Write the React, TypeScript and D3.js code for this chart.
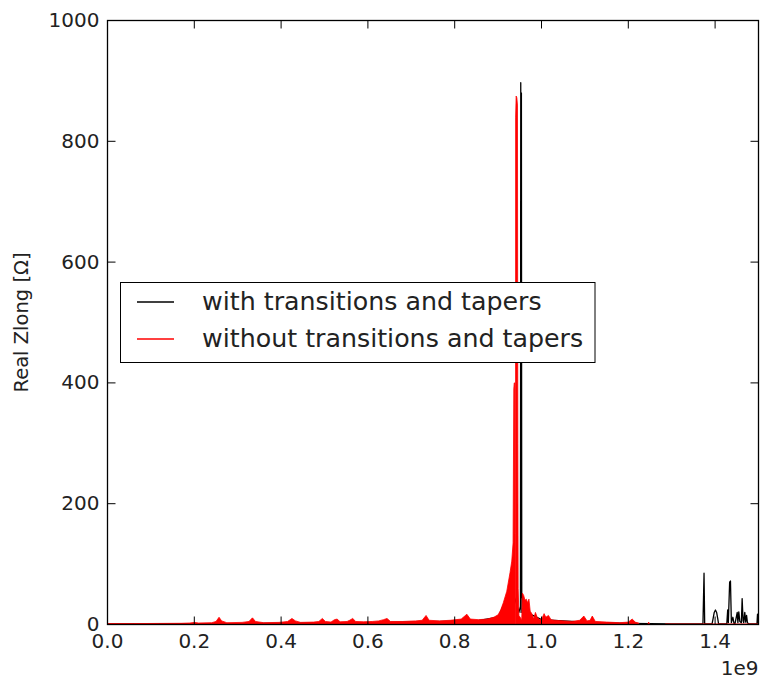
import React from 'react';
import * as d3 from 'd3';

const WIDTH = 760;
const HEIGHT = 681;

// Frequency axis values are in units of 1e9 Hz (offset label drawn at the axis end).
const X_OFFSET_LABEL = '1e9';
const Y_AXIS_LABEL = 'Real Zlong [Ω]';

const xTickValues = [0, 0.2, 0.4, 0.6, 0.8, 1.0, 1.2, 1.4];
const xTickLabels = ['0.0', '0.2', '0.4', '0.6', '0.8', '1.0', '1.2', '1.4'];
const yTickValues = [0, 200, 400, 600, 800, 1000];
const yTickLabels = ['0', '200', '400', '600', '800', '1000'];

const seriesNames = ['with transitions and tapers', 'without transitions and tapers'];
const seriesColors = ['#000000', '#ff0000'];

// Impedance with transitions and tapers
const withTapersFreq = [
  0.0, 0.3, 0.6, 0.85, 0.9, 0.93, 0.94, 0.948, 0.9515, 0.9522, 0.953, 0.9537, 0.9545,
  0.9555, 0.958, 0.965, 0.98, 1.0, 1.1, 1.2, 1.3, 1.372, 1.3745, 1.376, 1.385, 1.393,
  1.3955, 1.398, 1.4008, 1.4035, 1.406, 1.408, 1.42, 1.427, 1.429, 1.4305, 1.4335, 1.4354,
  1.4375, 1.441, 1.4435, 1.446, 1.451, 1.4525, 1.4546, 1.457, 1.4605, 1.4623, 1.4645, 1.466,
  1.4684, 1.4705, 1.4725, 1.4745, 1.478, 1.49, 1.4965, 1.4977, 1.4995, 1.5,
];
const withTapersZ = [
  1, 1.5, 3, 6, 12, 60, 40, 20, 30, 897, 20, 880, 45,
  50, 30, 22, 15, 8, 4, 2, 1, 1, 85, 1.5, 1, 1,
  10, 20, 24, 20, 10, 1, 1, 1.5, 24, 3, 70, 72,
  3, 12, 2, 2, 20, 3, 21, 5, 3, 43, 6, 3,
  20, 4, 15, 3, 1, 1, 1, 17, 2, 15,
];

// Impedance without transitions and tapers (null = no data)
const withoutTapersFreq = [
  0.0, 0.06, 0.12, 0.17, 0.19, 0.2, 0.21, 0.24, 0.25, 0.257, 0.263, 0.275,
  0.31, 0.326, 0.334, 0.341, 0.36, 0.395, 0.415, 0.425, 0.433, 0.445, 0.475, 0.487,
  0.495, 0.502, 0.515, 0.523, 0.529, 0.536, 0.552, 0.558, 0.565, 0.572, 0.59, 0.61,
  0.625, 0.636, 0.644, 0.652, 0.68, 0.71, 0.725, 0.734, 0.741, 0.765, 0.79, 0.815,
  0.828, 0.836, 0.855, 0.875, 0.89, 0.9, 0.906, 0.912, 0.92, 0.9275, 0.9315, 0.9345,
  0.9362, 0.9372, 0.9386, 0.9389, 0.939, 0.9401, 0.9402, 0.9404, 0.9416, 0.9432, 0.9446,
  0.9455, 0.9462, 0.948, 0.9545, 0.956,
  0.959, 0.962, 0.965, 0.968, 0.971, 0.974, 0.976, 0.979, 0.982, 0.986, 0.99, 0.996,
  1.001, 1.006, 1.01, 1.016, 1.022, 1.03, 1.05, 1.07, 1.088, 1.0975, 1.105, 1.112,
  1.117, 1.124, 1.15, 1.18, 1.2, 1.209, 1.216, 1.225, 1.227, 1.245, 1.247, 1.249,
  1.25, 1.285, 1.35, 1.4, 1.45, 1.5,
];
const withoutTapersZ: (number | null)[] = [
  1.5, 1.5, 1.8, 2, 2.5, 3.5, 2.5, 3, 5, 12, 6, 3,
  3.5, 5, 11, 5, 3, 3.5, 5, 10, 6, 3.5, 4, 5,
  10, 5, 4, 8, 9, 4.5, 5, 7, 10, 5, 4.5, 5,
  6, 8, 10, 5, 5, 6, 7, 15, 7, 6, 7, 9,
  17, 9, 8, 9, 12, 16, 24, 36, 55, 86, 105, 135,
  390, 400, 400, 150, 0, 0, 150, 840, 875, 872, 860,
  300, 60, 15, 8, 52,
  48, 40, 42, 36, 42, 22, 20, 16, 9, 20, 12, 8,
  10, 18, 12, 15, 8, 7, 6, 5, 7, 14, 6, 7,
  14, 5, 4, 3, 4, 9, 4, 2, null, 0.5, 4, 0.5,
  null, 1, 1, 1, 1, 1,
];

const MARGIN = { left: 107.5, right: 1.5, top: 20.5, bottom: 56.5 };
const FONT = 'DejaVu Sans, sans-serif';

export default function App() {
  const x0 = MARGIN.left;
  const x1 = WIDTH - MARGIN.right;
  const y0 = HEIGHT - MARGIN.bottom;
  const y1 = MARGIN.top;

  const x = d3.scaleLinear().domain([0, 1.5]).range([x0, x1]);
  const y = d3.scaleLinear().domain([0, 1000]).range([y0, y1]);

  const blackData = withTapersFreq.map((f, i) => ({ f, z: withTapersZ[i] }));
  const redData = withoutTapersFreq.map((f, i) => ({ f, z: withoutTapersZ[i] }));

  const blackLine = d3
    .line<{ f: number; z: number }>()
    .x((d) => x(d.f))
    .y((d) => y(d.z))(blackData) as string;

  const redArea = d3
    .area<{ f: number; z: number | null }>()
    .defined((d) => d.z !== null)
    .x((d) => x(d.f))
    .y0(y(0))
    .y1((d) => y(d.z as number))(redData) as string;

  const redLine = d3
    .line<{ f: number; z: number | null }>()
    .defined((d) => d.z !== null)
    .x((d) => x(d.f))
    .y((d) => y(d.z as number))(redData) as string;

  const tickLen = 8;
  const legend = { x: 120.5, y: 282.5, w: 474.5, h: 80 };

  return (
    <svg
      width={WIDTH}
      height={HEIGHT}
      style={{ position: 'absolute', left: 0, top: 0, background: '#fff' }}
      fontFamily={FONT}
    >
      <rect x={0} y={0} width={WIDTH} height={HEIGHT} fill="#fff" />
      <defs>
        <clipPath id="plot-clip">
          <rect x={x0} y={y1} width={x1 - x0} height={y0 - y1} />
        </clipPath>
      </defs>

      <g clipPath="url(#plot-clip)">
        <path d={blackLine} fill="none" stroke={seriesColors[0]} strokeWidth={1.3} strokeLinejoin="round" />
        <path d={redArea} fill={seriesColors[1]} stroke="none" />
        <path d={redLine} fill="none" stroke={seriesColors[1]} strokeWidth={0.8} strokeLinejoin="round" />
      </g>

      {/* ticks, pointing inward on all four sides */}
      <g stroke="#000" strokeWidth={1}>
        {xTickValues.map((v) => (
          <g key={'xt' + v}>
            <line x1={x(v)} x2={x(v)} y1={y0} y2={y0 - tickLen} />
            <line x1={x(v)} x2={x(v)} y1={y1} y2={y1 + tickLen} />
          </g>
        ))}
        {yTickValues.map((v) => (
          <g key={'yt' + v}>
            <line x1={x0} x2={x0 + tickLen} y1={y(v)} y2={y(v)} />
            <line x1={x1} x2={x1 - tickLen} y1={y(v)} y2={y(v)} />
          </g>
        ))}
      </g>

      <rect x={x0} y={y1} width={x1 - x0} height={y0 - y1} fill="none" stroke="#000" strokeWidth={1.3} />

      <g fontSize={20} fill="#222">
        {xTickValues.map((v, i) => (
          <text key={'xl' + v} x={x(v)} y={y0 + 23} textAnchor="middle">
            {xTickLabels[i]}
          </text>
        ))}
        {yTickValues.map((v, i) => (
          <text key={'yl' + v} x={x0 - 8} y={y(v) + 6.5} textAnchor="end">
            {yTickLabels[i]}
          </text>
        ))}
        <text x={x1} y={y0 + 50} textAnchor="end">
          {X_OFFSET_LABEL}
        </text>
      </g>

      <text
        transform={`translate(28, ${(y0 + y1) / 2}) rotate(-90)`}
        textAnchor="middle"
        fontSize={19.5}
        fill="#222"
      >
        {Y_AXIS_LABEL}
      </text>

      {/* legend */}
      <g>
        <rect x={legend.x} y={legend.y} width={legend.w} height={legend.h} fill="#fff" stroke="#000" strokeWidth={1} />
        {seriesNames.map((name, i) => (
          <g key={name}>
            <line
              x1={137}
              x2={174}
              y1={legend.y + 19.5 + i * 37}
              y2={legend.y + 19.5 + i * 37}
              stroke={seriesColors[i]}
              strokeWidth={1.3}
            />
            <text x={202} y={legend.y + 27.5 + i * 37} fontSize={25.3} fill="#222">
              {name}
            </text>
          </g>
        ))}
      </g>
    </svg>
  );
}
